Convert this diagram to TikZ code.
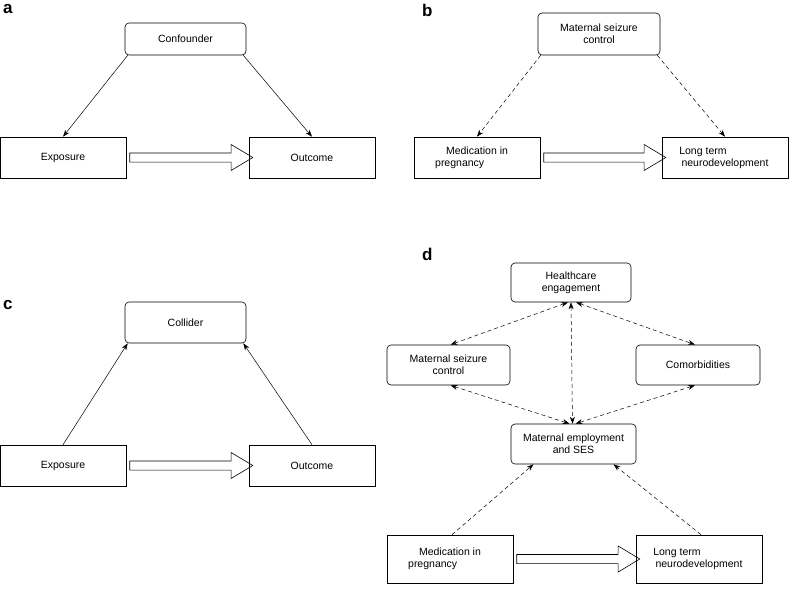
\documentclass[tikz,border=0pt]{standalone}
\usepackage{fontspec}
\setmainfont{Liberation Sans}
\usetikzlibrary{shapes.arrows,arrows.meta}
\begin{document}
\begin{tikzpicture}[x=1pt,y=-1pt,
  box/.style={draw,line width=0.6pt,align=center,font=\fontsize{10.5}{12}\selectfont,inner sep=0pt},
  rbox/.style={box,rounded corners=4pt},
  lab/.style={font=\bfseries\fontsize{17}{17}\selectfont,anchor=north west,inner sep=0pt},
  sol/.style={-{Stealth[length=7pt,width=5pt]},line width=0.5pt},
  das/.style={-{Stealth[length=7pt,width=5pt]},line width=0.5pt,dash pattern=on 4pt off 3pt},
  bid/.style={das,{Stealth[length=7pt,width=5pt]}-{Stealth[length=7pt,width=5pt]}},
  fat/.style={single arrow,draw,line width=0.6pt,inner xsep=0pt,inner ysep=4pt,minimum width=26pt,single arrow head extend=8pt,single arrow tip angle=62,anchor=center}]
\useasboundingbox (0,0) rectangle (789,595);
% a
\node[lab] (la) at (3,4) {a};
\node[rbox,minimum width=121pt,minimum height=32pt] (ca) at (185.5,39) {Confounder};
\node[box,minimum width=126pt,minimum height=41pt] (ea) at (63,157.5) {Exposure};
\node[box,minimum width=126pt,minimum height=41pt] (oa) at (312,157.5) {Outcome};
\draw[sol] (ca.south west)++(3,0) -- (ea.north);
\draw[sol] (ca.south east)++(-3,0) -- (oa.north);
% b
\node[lab] (lb) at (422,4) {b};
\node[rbox,minimum width=122pt,minimum height=42pt] (cb) at (599,34) {Maternal seizure\\control};
\node[box,minimum width=126pt,minimum height=41pt] (eb) at (477,157.5) {Medication in\\pregnancy\hspace*{3.3em}};
\node[box,minimum width=126pt,minimum height=41pt] (ob) at (725,157.5) {Long term\hspace*{4.2em}\\neurodevelopment};
\draw[das] (cb.south west)++(3,0) -- (eb.north);
\draw[das] (cb.south east)++(-3,0) -- (ob.north);
% c
\node[lab] (lc) at (3,300) {c};
\node[rbox,minimum width=121pt,minimum height=41pt] (cc) at (185.5,322.5) {Collider};
\node[box,minimum width=126pt,minimum height=41pt] (ec) at (63,465.5) {Exposure};
\node[box,minimum width=126pt,minimum height=41pt] (oc) at (312,465.5) {Outcome};
\draw[sol] (ec.north) -- ([xshift=3pt]cc.south west);
\draw[sol] (oc.north) -- ([xshift=-3pt]cc.south east);
% d
\node[lab] (ld) at (422,248) {d};
\node[rbox,minimum width=120pt,minimum height=39pt] (he) at (571,282.5) {Healthcare\\engagement};
\node[rbox,minimum width=123pt,minimum height=40pt] (ms) at (448.5,365) {Maternal seizure\\control};
\node[rbox,minimum width=124pt,minimum height=40pt] (co) at (698,365) {Comorbidities};
\node[rbox,minimum width=125pt,minimum height=40pt] (es) at (573.5,444) {Maternal employment\\and SES};
\node[box,minimum width=126pt,minimum height=48pt] (md) at (450,559) {Medication in\\pregnancy\hspace*{3.3em}};
\node[box,minimum width=126pt,minimum height=48pt] (ld2) at (699,559) {Long term\hspace*{4.2em}\\neurodevelopment};
\draw[bid] ([xshift=-3pt]he.south) -- ([xshift=2pt]ms.north);
\draw[bid] ([xshift=5pt]he.south) -- ([xshift=-3pt]co.north);
\draw[bid] (he.south) -- ([xshift=-1pt]es.north);
\draw[bid] ([xshift=2pt]ms.south) -- ([xshift=-4pt]es.north);
\draw[bid] ([xshift=-3pt]co.south) -- ([xshift=2pt]es.north);
\draw[das] ([xshift=2pt]md.north) -- ([xshift=-40pt]es.south);
\draw[das] ([xshift=2pt]ld2.north) -- ([xshift=40pt]es.south);
% fat arrows
\path (ea.east) -- (oa.west) node[fat,midway,minimum height=123pt] (fa) {};
\path (eb.east) -- (ob.west) node[fat,midway,minimum height=122pt] (fb) {};
\path (ec.east) -- (oc.west) node[fat,midway,minimum height=123pt] (fc) {};
\path (md.east) -- (ld2.west) node[fat,midway,minimum height=123pt] (fd) {};
\end{tikzpicture}
\end{document}
